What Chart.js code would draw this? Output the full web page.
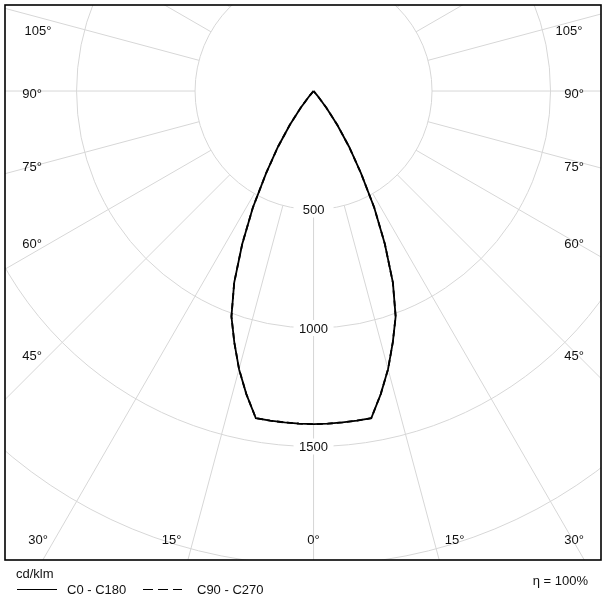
<!DOCTYPE html>
<html><head><meta charset="utf-8">
<script src="https://cdn.jsdelivr.net/npm/chart.js@4.4.1/dist/chart.umd.min.js"></script>
<style>html,body{margin:0;padding:0;background:#fff;}canvas{display:block;}</style>
</head><body>
<canvas id="c" width="607" height="602"></canvas>
<script>
// ---- data (gamma angle in degrees, luminous intensity in cd/klm) ----
const gammaAngles = [0,2.5,5,7.5,10,12.5,15,17.5,20,22.5,25,27.5,30,32.5,35,37.5,40,42.5,
  45,47.5,50,52.5,55,57.5,60,62.5,65,67.5,70,72.5,75,77.5,80,82.5,85,87.5,90];
const c0c180 = [1406,1405,1404,1403,1402,1310,1215,1112,1013,875,712,555,400,280,175,90,25,0,
  0,0,0,0,0,0,0,0,0,0,0,0,0,0,0,0,0,0,0];
const c90c270 = [1406,1405,1404,1403,1402,1310,1215,1112,1013,875,712,555,400,280,175,90,25,0,
  0,0,0,0,0,0,0,0,0,0,0,0,0,0,0,0,0,0,0];
const seriesNames = ['C0 - C180','C90 - C270'];
const ringValues = [500,1000,1500,2000];
const ringLabelValues = [500,1000,1500];
const radialAngles = [0,15,30,45,60,75,90,105,120,135,150,165,180];
const angleLabelTexts = ['105°','90°','75°','60°','45°','30°','15°','0°','15°','30°','45°','60°','75°','90°','105°'];
const unitLabel = 'cd/klm';
const efficiencyLabel = 'η = 100%';

// ---- layout ----
const FONT = '13px "Liberation Sans", Arial, sans-serif';
const TEXT = '#111';
const GRID = '#d7d7d7';
// label anchor positions (px; x relative to chart left / right / centre, y relative to chart top)
const angleLabelPos = [
  ['L',33,26],['L',27,89],['L',27,162],['L',27,239],['L',27,351],['L',33,535],
  ['C',-142,535],['C',0,535],['C',141,535],
  ['R',-27,535],['R',-27,351],['R',-27,239],['R',-27,162],['R',-27,89],['R',-32,26]
];

function planePoints(vals){
  const pts = [];
  for (let i = gammaAngles.length-1; i >= 1; i--) { // C180 half (left)
    const g = gammaAngles[i]*Math.PI/180;
    pts.push({x: -vals[i]*Math.sin(g), y: -vals[i]*Math.cos(g)});
  }
  for (let i = 0; i < gammaAngles.length; i++) { // C0 half (right)
    const g = gammaAngles[i]*Math.PI/180;
    pts.push({x: vals[i]*Math.sin(g), y: -vals[i]*Math.cos(g)});
  }
  return pts;
}

const gridPlugin = {
  id: 'polarGrid',
  beforeDatasetsDraw(chart){
    const {ctx, chartArea:a, scales:{x,y}} = chart;
    const cx = x.getPixelForValue(0), cy = y.getPixelForValue(0);
    const rad = v => y.getPixelForValue(-v) - cy;
    ctx.save();
    ctx.beginPath(); ctx.rect(a.left,a.top,a.right-a.left,a.bottom-a.top); ctx.clip();
    ctx.strokeStyle = GRID; ctx.lineWidth = 1;
    ringValues.forEach(v => { ctx.beginPath(); ctx.arc(cx,cy,rad(v),0,Math.PI*2); ctx.stroke(); });
    const r0 = rad(ringValues[0]), r1 = rad(5000);
    radialAngles.forEach(g => {
      [-1,1].forEach(s => {
        const t = g*Math.PI/180;
        const dx = s*Math.sin(t), dy = Math.cos(t);
        ctx.beginPath(); ctx.moveTo(cx+dx*r0, cy+dy*r0); ctx.lineTo(cx+dx*r1, cy+dy*r1); ctx.stroke();
      });
    });
    ctx.font = FONT; ctx.textAlign = 'center'; ctx.textBaseline = 'middle';
    ringLabelValues.forEach(v => {
      const py = y.getPixelForValue(-v);
      ctx.fillStyle = '#fff'; ctx.fillRect(cx-20, py-8, 40, 16);
      ctx.fillStyle = TEXT; ctx.fillText(String(v), cx, py+1);
    });
    ctx.restore();
  },
  afterDraw(chart){
    const {ctx, chartArea:a, scales:{x}} = chart;
    const cx = x.getPixelForValue(0);
    ctx.save();
    ctx.font = FONT; ctx.fillStyle = TEXT; ctx.textBaseline = 'middle'; ctx.textAlign = 'center';
    angleLabelTexts.forEach((t,i) => {
      const [m,ox,oy] = angleLabelPos[i];
      const px = m==='L' ? a.left+ox : m==='R' ? a.right+ox : cx+ox;
      ctx.fillText(t, px, a.top+oy);
    });
    // frame
    ctx.strokeStyle = '#000'; ctx.lineWidth = 1.6;
    ctx.strokeRect(a.left, a.top, a.right-a.left, a.bottom-a.top);
    // legend
    ctx.textAlign = 'left';
    ctx.fillText(unitLabel, 16, a.bottom+14);
    ctx.lineWidth = 1; ctx.strokeStyle = '#000';
    ctx.beginPath(); ctx.moveTo(17, a.bottom+29.5); ctx.lineTo(57, a.bottom+29.5); ctx.stroke();
    ctx.fillText(chart.data.datasets[0].label, 67, a.bottom+30);
    ctx.setLineDash([10,5]);
    ctx.beginPath(); ctx.moveTo(143, a.bottom+29.5); ctx.lineTo(182, a.bottom+29.5); ctx.stroke();
    ctx.setLineDash([]);
    ctx.fillText(chart.data.datasets[1].label, 197, a.bottom+30);
    ctx.textAlign = 'right';
    ctx.fillText(efficiencyLabel, 588, a.bottom+21);
    ctx.restore();
  }
};

new Chart(document.getElementById('c'), {
  type: 'scatter',
  data: {
    datasets: [
      {label: seriesNames[0], data: planePoints(c0c180), showLine: true, borderColor: '#000',
       borderWidth: 1.8, pointRadius: 0, tension: 0, order: 1},
      {label: seriesNames[1], data: planePoints(c90c270), showLine: true, borderColor: '#000',
       borderWidth: 1.8, borderDash: [6,4], pointRadius: 0, tension: 0, order: 2}
    ]
  },
  options: {
    responsive: false, animation: false, devicePixelRatio: 1,
    layout: {padding: {left: 5, top: 5, right: 6, bottom: 42}},
    plugins: {legend: {display: false}, tooltip: {enabled: false}},
    scales: {
      x: {type: 'linear', display: false, min: -1302, max: 1213},
      y: {type: 'linear', display: false, min: -1979, max: 363}
    }
  },
  plugins: [gridPlugin]
});
</script>
</body></html>
